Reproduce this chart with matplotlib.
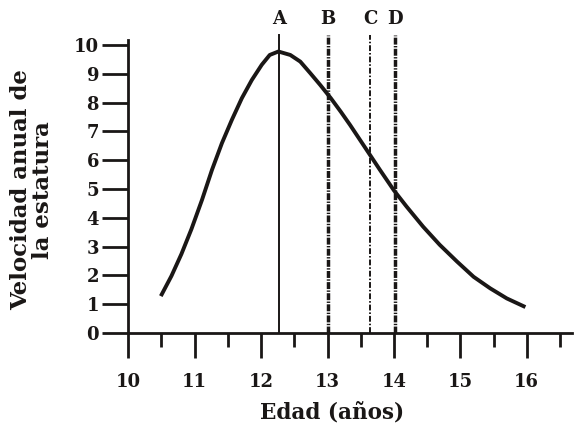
import matplotlib
matplotlib.use('Agg')
import matplotlib.pyplot as plt
from matplotlib.ticker import MultipleLocator

# Curva de velocidad de crecimiento
edad = [10.49, 10.65, 10.80, 10.95, 11.11, 11.26, 11.41, 11.56, 11.71,
        11.86, 12.01, 12.13, 12.26, 12.44, 12.59, 12.74, 12.89, 13.05,
        13.20, 13.34, 13.49, 13.64, 13.79, 14.0, 14.19, 14.44, 14.69,
        14.95, 15.20, 15.45, 15.70, 15.98]
velocidad = [1.28, 1.98, 2.74, 3.60, 4.62, 5.66, 6.59, 7.40, 8.15,
             8.78, 9.31, 9.65, 9.77, 9.65, 9.42, 9.02, 8.61, 8.15,
             7.68, 7.22, 6.70, 6.18, 5.66, 4.95, 4.39, 3.69, 3.06,
             2.48, 1.95, 1.55, 1.20, 0.90]

# Líneas verticales marcadas
marcas = ['A', 'B', 'C', 'D']
marcas_x = [12.27, 13.0, 13.64, 14.02]

x_ticks = [10, 11, 12, 13, 14, 15, 16]
y_ticks = list(range(0, 11))

tinta = '#1a1716'
plt.rcParams['font.family'] = 'DejaVu Serif'
plt.rcParams['font.weight'] = 'bold'

fig = plt.figure(figsize=(5.74, 4.3), dpi=100)
ax = fig.add_axes([0.2235, 0.2256, 0.7728, 0.6814])
ax.set_xlim(10, 16.68)
ax.set_ylim(0, 10.17)

ax.plot(edad, velocidad, color=tinta, lw=2.8, solid_capstyle='butt',
        solid_joinstyle='round')

# estilos de cada linea vertical
estilos = [
    dict(lw=1.4, ls='-'),
    dict(lw=2.5, dashes=(2.0, 0.4, 0.4, 0.4)),
    dict(lw=1.4, dashes=(3.0, 1.0, 0.8, 1.0)),
    dict(lw=2.5, dashes=(2.0, 0.4, 0.4, 0.4)),
]
for lab, xv, st in zip(marcas, marcas_x, estilos):
    ax.plot([xv, xv], [0, 10.35], color=tinta, clip_on=False, **st)
    ax.text(xv, 10.9, lab, ha='center', va='center', fontsize=13,
            fontweight='bold', color=tinta)

for s in ['top', 'right']:
    ax.spines[s].set_visible(False)
for s in ['left', 'bottom']:
    ax.spines[s].set_linewidth(2)
    ax.spines[s].set_color(tinta)

ax.set_xticks(x_ticks)
ax.xaxis.set_minor_locator(MultipleLocator(0.5))
ax.set_yticks(y_ticks)
ax.tick_params(axis='x', which='major', length=18, width=2, pad=11,
               labelsize=13, colors=tinta)
ax.tick_params(axis='x', which='minor', length=10, width=2, colors=tinta)
ax.tick_params(axis='y', which='major', length=19, width=2, pad=2,
               labelsize=13, colors=tinta)

fig.text(332 / 574, 1 - 413 / 430, 'Edad (años)', ha='center', va='center',
         fontsize=15.5, fontweight='bold', color=tinta)
fig.text(0.056, 1 - 190 / 430, 'Velocidad anual de\nla estatura', rotation=90,
         ha='center', va='center', fontsize=16.5, fontweight='bold',
         linespacing=0.95, color=tinta)

plt.savefig('out.png', dpi=100, facecolor='white')
plt.close()
